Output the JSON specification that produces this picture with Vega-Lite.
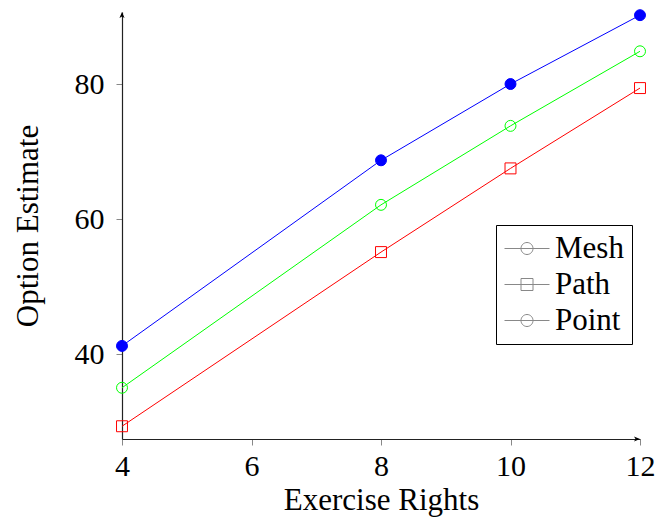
{
  "$schema": "https://vega.github.io/schema/vega-lite/v6.json",
  "width": 518,
  "height": 427,
  "autosize": {"type": "none"},
  "padding": {"left": 122, "top": 12, "right": 15, "bottom": 82},
  "background": "white",
  "config": {
    "view": {"stroke": null},
    "font": "Liberation Serif",
    "axis": {
      "grid": false,
      "domainColor": "#222222",
      "domainWidth": 1.2,
      "tickColor": "#888888",
      "tickSize": 6,
      "labelFont": "Liberation Serif",
      "labelFontSize": 30,
      "labelColor": "black",
      "labelFlush": false,
      "titleFont": "Liberation Serif",
      "titleFontSize": 31,
      "titleFontWeight": "normal",
      "titleColor": "black"
    },
    "legend": {
      "labelFont": "Liberation Serif",
      "labelFontSize": 31,
      "labelColor": "black"
    }
  },
  "datasets": {
    "series": [
      {"series": "Mesh", "x": 4, "y": 41.2},
      {"series": "Mesh", "x": 8, "y": 68.7},
      {"series": "Mesh", "x": 10, "y": 80.0},
      {"series": "Mesh", "x": 12, "y": 90.2},
      {"series": "Path", "x": 4, "y": 29.3},
      {"series": "Path", "x": 8, "y": 55.1},
      {"series": "Path", "x": 10, "y": 67.5},
      {"series": "Path", "x": 12, "y": 79.4},
      {"series": "Point", "x": 4, "y": 35.0},
      {"series": "Point", "x": 8, "y": 62.1},
      {"series": "Point", "x": 10, "y": 73.8},
      {"series": "Point", "x": 12, "y": 84.85}
    ],
    "arrowRight": [{"x": 12, "y": 27.41}],
    "arrowUp": [{"x": 4, "y": 90.67}]
  },
  "encoding": {
    "x": {
      "field": "x",
      "type": "quantitative",
      "scale": {"domain": [4, 12], "nice": false, "zero": false},
      "axis": {
        "values": [4, 6, 8, 10, 12],
        "title": "Exercise Rights",
        "labelPadding": 6,
        "titlePadding": 4,
        "encode": {"ticks": {"update": {"y": {"value": -6}, "y2": {"value": 6}}}}
      }
    },
    "y": {
      "field": "y",
      "type": "quantitative",
      "scale": {"domain": [27.41, 90.67], "nice": false, "zero": false},
      "axis": {
        "values": [40, 60, 80],
        "title": "Option Estimate",
        "labelPadding": 12,
        "titlePadding": 30,
        "encode": {"ticks": {"update": {"x": {"value": 6}, "x2": {"value": -6}}}}
      }
    }
  },
  "resolve": {"scale": {"shape": "independent"}, "legend": {"shape": "independent"}},
  "layer": [
    {
      "data": {"name": "series"},
      "mark": {"type": "line", "strokeWidth": 1},
      "encoding": {
        "color": {
          "field": "series",
          "type": "nominal",
          "scale": {"domain": ["Mesh", "Path", "Point"], "range": ["#0000ff", "#ff0000", "#00ff00"]},
          "legend": null
        }
      }
    },
    {
      "data": {"name": "series"},
      "mark": {"type": "point", "size": 120, "strokeWidth": 1, "opacity": 1, "filled": false},
      "encoding": {
        "color": {
          "field": "series",
          "type": "nominal",
          "scale": {"domain": ["Mesh", "Path", "Point"], "range": ["#0000ff", "#ff0000", "#00ff00"]},
          "legend": null
        },
        "fill": {
          "field": "series",
          "type": "nominal",
          "scale": {"domain": ["Mesh", "Path", "Point"], "range": ["#0000ff", "transparent", "transparent"]},
          "legend": null
        },
        "shape": {
          "field": "series",
          "type": "nominal",
          "scale": {"domain": ["Mesh", "Path", "Point"], "range": ["circle", "square", "circle"]},
          "legend": null
        }
      }
    },
    {
      "data": {"name": "series"},
      "mark": {"type": "point", "size": 900, "strokeWidth": 1, "opacity": 0, "filled": false},
      "encoding": {
        "stroke": {
          "field": "series",
          "type": "nominal",
          "scale": {"domain": ["Mesh", "Path", "Point"], "range": ["#0000ff", "#ff0000", "#00ff00"]},
          "legend": {
            "title": null,
            "orient": "none",
            "legendX": 374,
            "legendY": 213,
            "padding": 8,
            "strokeColor": "black",
            "fillColor": "white",
            "symbolSize": 900,
            "symbolStrokeWidth": 1,
            "rowPadding": 4,
            "labelOffset": 20,
            "encode": {
              "symbols": {
                "update": {
                  "fill": {"signal": "datum.value === 'Mesh' ? '#0000ff' : 'transparent'"},
                  "opacity": {"value": 1}
                }
              }
            }
          }
        },
        "shape": {
          "field": "series",
          "type": "nominal",
          "scale": {"domain": ["Mesh", "Path", "Point"], "range": ["M-1,0H2M0.9,0A0.4,0.4,0,1,1,0.1,0A0.4,0.4,0,1,1,0.9,0Z", "M-1,0H2M0.1,-0.4H0.9V0.4H0.1Z", "M-1,0H2M0.9,0A0.4,0.4,0,1,1,0.1,0A0.4,0.4,0,1,1,0.9,0Z"]},
          "legend": {
            "title": null,
            "orient": "none",
            "legendX": 374,
            "legendY": 213,
            "padding": 8,
            "strokeColor": "black",
            "fillColor": "white",
            "symbolSize": 900,
            "symbolStrokeWidth": 1,
            "rowPadding": 4,
            "labelOffset": 20,
            "encode": {
              "symbols": {
                "update": {
                  "fill": {"signal": "datum.value === 'Mesh' ? '#0000ff' : 'transparent'"},
                  "opacity": {"value": 1}
                }
              }
            }
          }
        }
      }
    },
    {
      "data": {"name": "arrowRight"},
      "mark": {"type": "point", "shape": "M-2,-0.85L0,0L-2,0.85L-1.5,0Z", "size": 36, "filled": true, "color": "black", "opacity": 1}
    },
    {
      "data": {"name": "arrowUp"},
      "mark": {"type": "point", "shape": "M-0.85,2L0,0L0.85,2L0,1.5Z", "size": 36, "filled": true, "color": "black", "opacity": 1}
    }
  ]
}
